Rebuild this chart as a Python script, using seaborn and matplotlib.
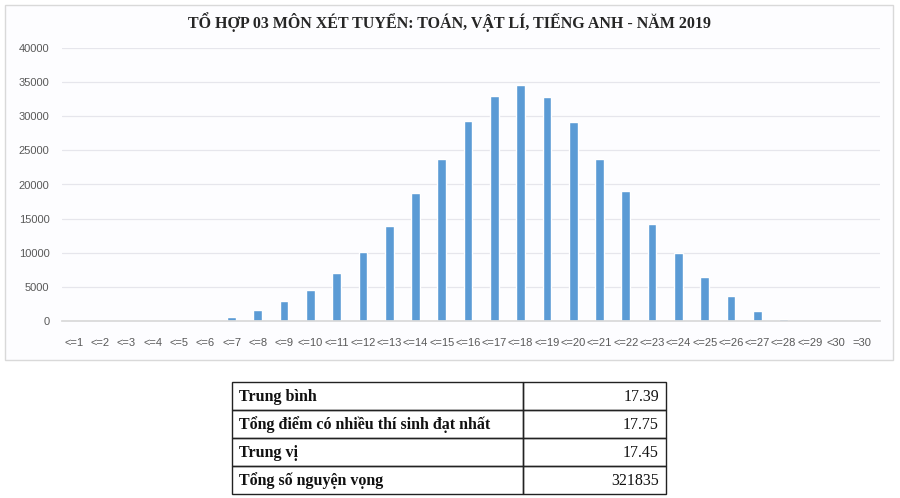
import matplotlib
matplotlib.use("Agg")
import matplotlib.pyplot as plt
import seaborn as sns
import pandas as pd
from matplotlib.patches import Rectangle

categories = ["<=%d" % i for i in range(1, 30)] + ["<30", "=30"]
counts = [0, 0, 0, 0, 0, 0, 600, 1600, 3000, 4500, 7000, 10100, 13900, 18700,
          23700, 29300, 33000, 34600, 32800, 29100, 23800, 19100, 14200, 10000,
          6400, 3600, 1400, 300, 0, 0, 0]
y_ticks = [0, 5000, 10000, 15000, 20000, 25000, 30000, 35000, 40000]

title = "TỔ HỢP 03 MÔN XÉT TUYỂN: TOÁN, VẬT LÍ, TIẾNG ANH - NĂM 2019"
table_labels = ["Trung bình", "Tổng điểm có nhiều thí sinh đạt nhất",
                "Trung vị", "Tổng số nguyện vọng"]
table_values = ["17.39", "17.75", "17.45", "321835"]

df = pd.DataFrame({"cat": categories, "count": counts})

sns.set_theme(style="white")
plt.rcParams["font.family"] = ["Liberation Sans", "DejaVu Sans"]
serif = ["Liberation Serif", "DejaVu Serif"]

W, H = 900, 498
fig = plt.figure(figsize=(9, 4.98), dpi=100)

# chart panel border
fig.patches.append(Rectangle((5 / W, 1 - 360 / H), 888 / W, 355 / H,
                             transform=fig.transFigure, fill=True, zorder=-5,
                             facecolor="#fdfdff", edgecolor="#d9d9d9", lw=1))

ax = fig.add_axes([62 / W, 1 - 321 / H, 818 / W, 273 / H])
ax.set_facecolor("none")
sns.barplot(data=df, x="cat", y="count", color="#5b9bd5", width=0.33,
            saturation=1, ax=ax)
ax.set_ylim(0, 40000)
ax.set_xlim(-0.45, len(categories) - 0.33)
ax.set_yticks(y_ticks)
ax.set_yticklabels([str(v) for v in y_ticks], fontsize=8, color="#595959")
ax.set_xticks(range(len(categories)))
ax.set_xticklabels(categories, fontsize=8, color="#595959")
ax.tick_params(axis="x", length=0, pad=12)
ax.tick_params(axis="y", length=0, pad=9)
ax.grid(axis="y", color="#e6e6ec", lw=0.9)
ax.set_axisbelow(True)
for s in ["top", "right", "left"]:
    ax.spines[s].set_visible(False)
ax.spines["bottom"].set_color("#d9d9d9")
ax.set_xlabel("")
ax.set_ylabel("")

fig.text(0.5, 1 - 22 / H, title, ha="center", va="center", fontsize=11.5,
         fontweight="bold", family=serif, color="#262626")

# stats table, drawn cell by cell
tax = fig.add_axes([232 / W, 1 - 494 / H, 434 / W, 112 / H])
tax.set_xlim(0, 434)
tax.set_ylim(112, 0)
tax.axis("off")
split = 291
row_h = 112 / len(table_labels)
for i, (lab, val) in enumerate(zip(table_labels, table_values)):
    y0 = i * row_h
    tax.add_patch(Rectangle((0, y0), split, row_h, fill=False,
                            edgecolor="#222222", lw=1.0, clip_on=False))
    tax.add_patch(Rectangle((split, y0), 434 - split, row_h, fill=False,
                            edgecolor="#222222", lw=1.0, clip_on=False))
    tax.text(7, y0 + row_h / 2 + 1, lab, ha="left", va="center",
             fontsize=11.5, fontweight="bold", family=serif, color="#111111")
    tax.text(434 - 7, y0 + row_h / 2 + 1, val, ha="right", va="center",
             fontsize=11.5, family=serif, color="#111111")

fig.savefig("out.png", dpi=100, facecolor="white")
